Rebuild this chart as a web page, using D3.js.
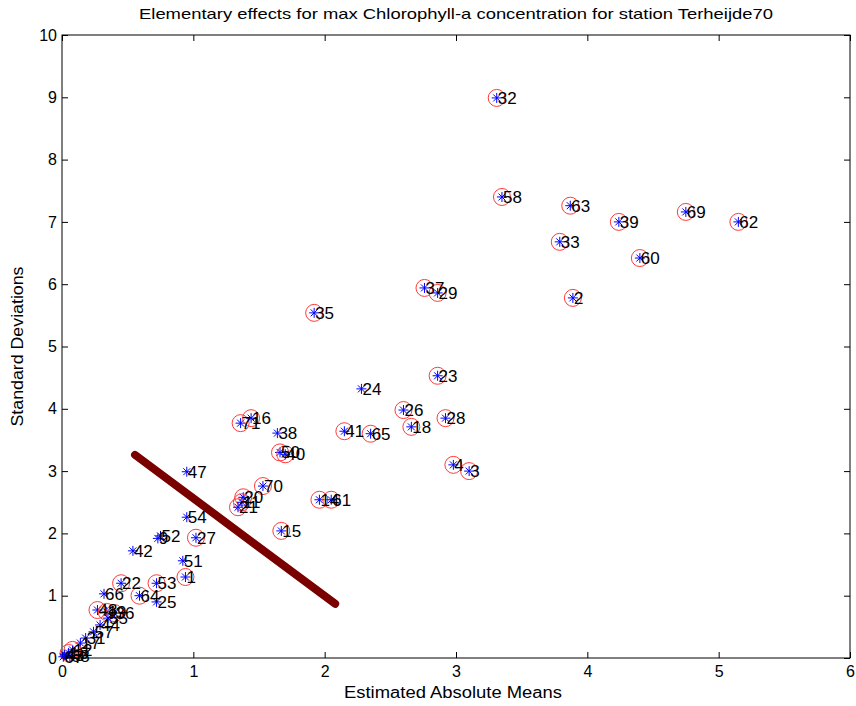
<!DOCTYPE html>
<html><head><meta charset="utf-8">
<script src="https://cdn.jsdelivr.net/npm/d3@7"></script>
<style>body{margin:0;background:#fff}svg{display:block}text{font-family:"Liberation Sans",Arial,sans-serif}</style>
</head><body>
<svg id="c" width="856" height="706"></svg>
<script>
// ---- data ----
const labels  = ["32","58","63","39","69","62","33","60","2","37","29","35","23","24","26","28","18","41","65","4","3","71","16","38","50","40","47","70","20","11","21","14","61","15","54","9","52","27","42","51","1","22","53","64","25","66","48","19","36","55","44","57","31","17","12","13","43","68","67"];
const meanAbs = [3.31,3.35,3.87,4.24,4.75,5.15,3.79,4.40,3.89,2.76,2.86,1.92,2.86,2.28,2.60,2.92,2.66,2.15,2.35,2.98,3.10,1.36,1.44,1.64,1.66,1.70,0.95,1.53,1.38,1.37,1.34,1.96,2.05,1.67,0.95,0.73,0.75,1.02,0.54,0.92,0.94,0.45,0.72,0.59,0.72,0.32,0.27,0.34,0.40,0.35,0.29,0.24,0.18,0.14,0.08,0.05,0.02,0.06,0.01];
const stdDev  = [8.99,7.40,7.26,7.00,7.16,7.00,6.68,6.42,5.78,5.94,5.86,5.54,4.53,4.32,3.98,3.85,3.71,3.64,3.60,3.10,3.00,3.77,3.85,3.61,3.30,3.27,2.99,2.76,2.58,2.50,2.42,2.54,2.54,2.04,2.26,1.92,1.96,1.93,1.72,1.56,1.30,1.20,1.20,1.00,0.90,1.03,0.77,0.74,0.72,0.64,0.53,0.42,0.32,0.24,0.13,0.08,0.05,0.03,0.02];
const circled = [1,1,1,1,1,1,1,1,1,1,1,1,1,0,1,1,1,1,1,1,1,1,1,0,1,1,0,1,1,1,1,1,1,1,0,0,0,1,0,0,1,1,1,1,0,0,1,1,1,0,0,0,0,0,1,1,0,0,0];
const lineX = [0.556, 2.08];
const lineY = [3.26, 0.87];
const xTicks = [0,1,2,3,4,5,6];
const yTicks = [0,1,2,3,4,5,6,7,8,9,10];
const titleText = "Elementary effects for max Chlorophyll-a concentration for station Terheijde70";
const xLabel = "Estimated Absolute Means";
const yLabel = "Standard Deviations";

// ---- layout ----
const L=62, R=850, T=35, B=658;
const svg = d3.select("#c");
const x = d3.scaleLinear().domain([0,6]).range([L,R]);
const y = d3.scaleLinear().domain([0,10]).range([B,T]);

svg.append("rect").attr("x",L).attr("y",T).attr("width",R-L).attr("height",B-T)
  .attr("fill","#fff").attr("stroke","#000").attr("stroke-width",1);

function styleAxis(g){ g.select(".domain").remove(); g.selectAll("line").attr("stroke","#000");
  g.selectAll("text").attr("fill","#000").style("font-size","16px").style("font-family","'Liberation Sans',Arial,sans-serif"); }

svg.append("g").attr("transform",`translate(0,${B})`)
  .call(d3.axisBottom(x).tickValues(xTicks).tickFormat(d3.format("d")).tickSize(-6).tickPadding(8)).call(styleAxis);
svg.append("g").attr("transform",`translate(0,${T})`)
  .call(d3.axisTop(x).tickValues(xTicks).tickFormat("").tickSize(-6)).call(styleAxis);
svg.append("g").attr("transform",`translate(${L},0)`)
  .call(d3.axisLeft(y).tickValues(yTicks).tickFormat(d3.format("d")).tickSize(-6).tickPadding(5)).call(styleAxis);
svg.append("g").attr("transform",`translate(${R},0)`)
  .call(d3.axisRight(y).tickValues(yTicks).tickFormat("").tickSize(-6)).call(styleAxis);

// thick line
svg.append("line").attr("x1",x(lineX[0])).attr("y1",y(lineY[0])).attr("x2",x(lineX[1])).attr("y2",y(lineY[1]))
  .attr("stroke","#7a0000").attr("stroke-width",8).attr("stroke-linecap","round");

const pts = labels.map((l,i)=>({l, mx:meanAbs[i], sd:stdDev[i], c:circled[i]}));
const g = svg.append("g");
const s = 5;
pts.forEach(p=>{
  const cx=x(p.mx), cy=y(p.sd);
  if(p.c) g.append("circle").attr("cx",cx).attr("cy",cy).attr("r",8.5).attr("fill","none").attr("stroke","#ff3a3a").attr("stroke-width",1);
  const st = g.append("g").attr("stroke","#0000ff").attr("stroke-width",1);
  st.append("line").attr("x1",cx-s).attr("x2",cx+s).attr("y1",cy).attr("y2",cy);
  st.append("line").attr("x1",cx).attr("x2",cx).attr("y1",cy-s).attr("y2",cy+s);
  st.append("line").attr("x1",cx-s*0.7).attr("x2",cx+s*0.7).attr("y1",cy-s*0.7).attr("y2",cy+s*0.7);
  st.append("line").attr("x1",cx-s*0.7).attr("x2",cx+s*0.7).attr("y1",cy+s*0.7).attr("y2",cy-s*0.7);
});
pts.forEach(p=>{
  g.append("text").attr("x",x(p.mx)+1).attr("y",y(p.sd)).attr("dy","0.35em")
   .style("font-size","17px").attr("fill","#000").text(p.l);
});

svg.append("text").attr("x",(L+R)/2).attr("y",19).attr("text-anchor","middle").style("font-size","15px")
  .attr("textLength",634).attr("lengthAdjust","spacingAndGlyphs").text(titleText);
svg.append("text").attr("x",453).attr("y",698).attr("text-anchor","middle").style("font-size","16px")
  .attr("textLength",218).attr("lengthAdjust","spacingAndGlyphs").text(xLabel);
svg.append("text").attr("transform",`translate(23,${(T+B)/2}) rotate(-90)`).attr("text-anchor","middle").style("font-size","16px")
  .attr("textLength",160).attr("lengthAdjust","spacingAndGlyphs").text(yLabel);
</script>
</body></html>
